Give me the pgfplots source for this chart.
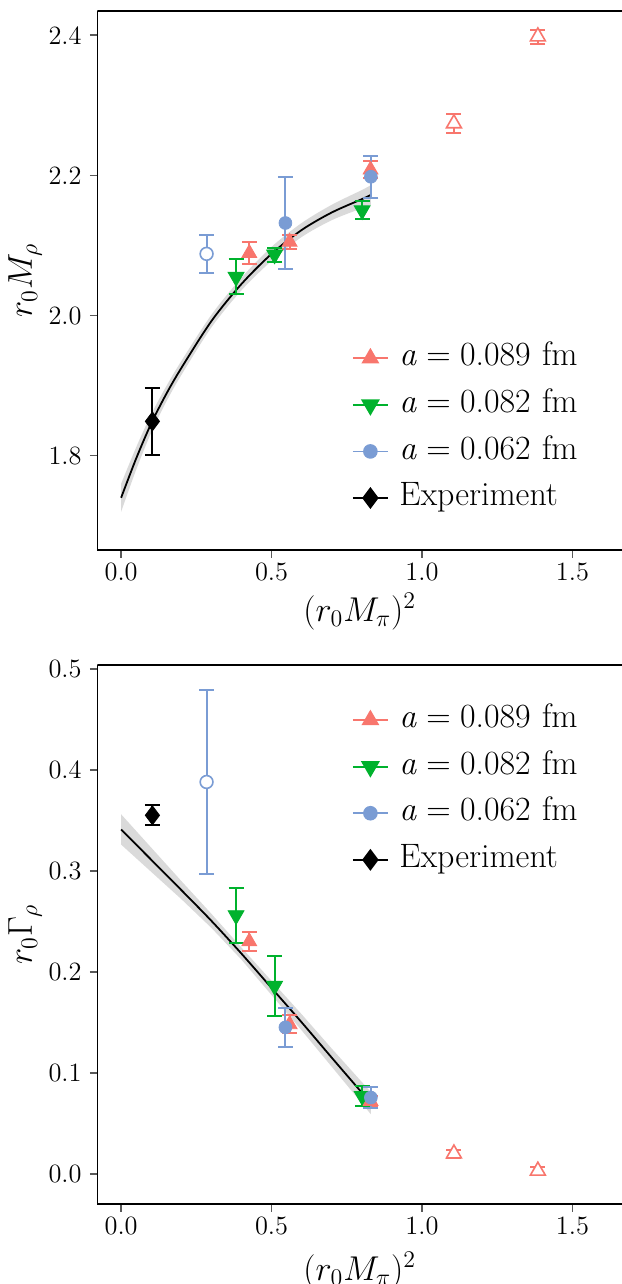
\documentclass[border=0pt]{standalone}
\usepackage{pgfplots}
\usepackage{pgfplotstable}
\pgfplotsset{compat=1.18}
\usepgfplotslibrary{fillbetween}
\definecolor{cR}{RGB}{248,118,109}
\definecolor{cG}{RGB}{0,178,45}
\definecolor{cB}{RGB}{122,156,212}
\definecolor{cBand}{RGB}{218,218,218}

% fit curves: x, central value, half width of band
\pgfplotstableread{
x y h
0 1.740 0.020
0.05 1.796 0.016
0.1 1.846 0.013
0.15 1.888 0.011
0.2 1.925 0.010
0.3 1.992 0.009
0.4 2.045 0.009
0.5 2.088 0.010
0.6 2.122 0.010
0.7 2.147 0.011
0.8 2.166 0.013
0.83 2.172 0.014
}\fitM
\pgfplotstableread{
x y h
0 0.341 0.015
0.1 0.311 0.012
0.2 0.281 0.009
0.3 0.2505 0.007
0.4 0.218 0.006
0.5 0.184 0.007
0.6 0.150 0.008
0.7 0.115 0.009
0.83 0.070 0.011
}\fitG

\newcommand{\aeq}[1]{\textit{a}\hspace{0.278em}=\hspace{0.278em}#1\hspace{0.333em}fm}

\pgfplotsset{
 common/.style={
  scale only axis, width=262.3bp, height=269.6bp,
  xmin=-0.0788, xmax=1.6646,
  axis lines*=left, axis line style={-, line width=0.8bp, black},
  tick align=outside, major tick length=3.75bp,
  tick style={line width=0.7bp, color=black!65},
  xtick={0,0.5,1,1.5},
  xticklabels={0.0,0.5,1.0,1.5},
  tick label style={font=\fontsize{13.25}{15}\selectfont},
  xticklabel style={anchor=north, inner sep=0pt, yshift=-2.75bp},
  yticklabel style={anchor=east, inner sep=0pt, xshift=-3.95bp},
  label style={font=\fontsize{17.28}{20}\selectfont},
  xlabel={$(r_0M_\pi)^2$},
  ylabel style={at={(axis description cs:-0.1247,0.5)}, anchor=base, inner sep=0pt},
  legend cell align=left,
  legend image code/.code={\draw[mark repeat=2,mark phase=2,#1] plot coordinates {(0bp,0bp) (8.75bp,0bp) (17.5bp,0bp)};},
  legend style={draw=none, fill=none, inner sep=0pt, outer sep=0pt,
    font=\fontsize{17}{19}\selectfont,
    nodes={inner sep=1bp, text height=11.7bp, text depth=4bp},
    row sep=5.6bp, column sep=4.35bp},
 },
 errb/.style={error bars/y dir=both, error bars/y explicit,
   error bars/error bar style={line width=1bp, solid},
   error bars/error mark=-,
   error bars/error mark options={rotate=90, mark size=3.75bp, line width=1bp}},
 sR/.style={only marks, forget plot, color=cR, mark=triangle*, mark size=4.3bp, mark options={solid, fill=cR, draw=cR}, errb},
 sRo/.style={only marks, forget plot, color=cR, mark=triangle*, mark size=4.3bp, mark options={solid, fill=white, draw=cR, line width=0.8bp}, errb},
 sG/.style={only marks, forget plot, color=cG, mark=triangle*, mark size=4.6bp, mark options={solid, rotate=180, fill=cG, draw=cG}, errb},
 sB/.style={only marks, forget plot, color=cB, mark=*, mark size=3.2bp, mark options={solid, fill=cB, draw=cB}, errb},
 sBo/.style={only marks, forget plot, color=cB, mark=*, mark size=3.2bp, mark options={solid, fill=white, draw=cB, line width=0.8bp}, errb},
 sK/.style={only marks, forget plot, color=black, mark=diamond*, mark size=4.75bp, mark options={solid, fill=black, draw=black}, errb},
}

\newcommand{\legendimages}{%
  \addlegendimage{cR, line width=0.9bp, mark=triangle*, mark size=4.3bp, mark options={solid, fill=cR}}
  \addlegendentry{\aeq{0.089}}
  \addlegendimage{cG, line width=0.9bp, mark=triangle*, mark size=4.6bp, mark options={solid, rotate=180, fill=cG}}
  \addlegendentry{\aeq{0.082}}
  \addlegendimage{cB, line width=0.9bp, mark=*, mark size=3.2bp, mark options={solid, fill=cB}}
  \addlegendentry{\aeq{0.062}}
  \addlegendimage{black, line width=0.9bp, mark=diamond*, mark size=4.75bp, mark options={solid, fill=black}}
  \addlegendentry{Experiment}
}

\begin{document}
\begin{tikzpicture}
% ---------------- top panel: r0 M_rho ----------------
\begin{axis}[common, at={(48.7bp,-275bp)}, anchor=south west,
  ymin=1.6655, ymax=2.4347,
  ytick={1.8,2.0,2.2,2.4},
  yticklabels={1.8,2.0,2.2,2.4},
  ylabel={$r_0M_\rho$},
  xlabel style={at={(axis description cs:0.5,-0.1317)}, anchor=base, inner sep=0pt},
  legend style={at={(axis description cs:0.4853,0.3885)}, anchor=north west}]
\addplot[name path=upM, draw=none, forget plot, smooth] table[x=x, y expr=\thisrow{y}+\thisrow{h}] {\fitM};
\addplot[name path=loM, draw=none, forget plot, smooth] table[x=x, y expr=\thisrow{y}-\thisrow{h}] {\fitM};
\addplot[cBand, forget plot] fill between[of=upM and loM];
\addplot[black, line width=0.9bp, smooth, forget plot] table[x=x, y=y] {\fitM};
\addplot[sR] table[x=x, y=y, y error=e] {
x y e
0.426 2.089 0.016
0.560 2.105 0.010
0.829 2.208 0.012
};
\addplot[sRo] table[x=x, y=y, y error=e] {
x y e
1.106 2.274 0.014
1.385 2.398 0.010
};
\addplot[sG] table[x=x, y=y, y error=e] {
x y e
0.382 2.055 0.025
0.510 2.087 0.010
0.801 2.150 0.013
};
\addplot[sB] table[x=x, y=y, y error=e] {
x y e
0.546 2.132 0.065
0.830 2.198 0.030
};
\addplot[sBo] table[x=x, y=y, y error=e] {
x y e
0.284 2.088 0.027
};
\addplot[sK] table[x=x, y=y, y error=e] {
x y e
0.104 1.849 0.048
};
\legendimages
\draw[line width=0.8bp, black] (rel axis cs:0,1) -- (rel axis cs:1,1);
\end{axis}
% ---------------- bottom panel: r0 Gamma_rho ----------------
\begin{axis}[common, at={(48.7bp,-602bp)}, anchor=south west,
  ymin=-0.0299, ymax=0.504,
  ytick={0,0.1,0.2,0.3,0.4,0.5},
  yticklabels={0.0,0.1,0.2,0.3,0.4,0.5},
  ylabel={$r_0\Gamma_\rho$},
  xlabel style={at={(axis description cs:0.5,-0.141)}, anchor=base, inner sep=0pt},
  legend style={at={(axis description cs:0.4853,0.9304)}, anchor=north west}]
\addplot[name path=upG, draw=none, forget plot] table[x=x, y expr=\thisrow{y}+\thisrow{h}] {\fitG};
\addplot[name path=loG, draw=none, forget plot] table[x=x, y expr=\thisrow{y}-\thisrow{h}] {\fitG};
\addplot[cBand, forget plot] fill between[of=upG and loG];
\addplot[black, line width=0.9bp, smooth, forget plot] table[x=x, y=y] {\fitG};
\addplot[sR] table[x=x, y=y, y error=e] {
x y e
0.426 0.230 0.0096
0.560 0.148 0.009
0.829 0.072 0.005
};
\addplot[sRo] table[x=x, y=y, y error=e] {
x y e
1.106 0.020 0.004
1.385 0.003 0.004
};
\addplot[sG] table[x=x, y=y, y error=e] {
x y e
0.382 0.256 0.0275
0.510 0.186 0.030
0.801 0.077 0.010
};
\addplot[sB] table[x=x, y=y, y error=e] {
x y e
0.546 0.145 0.019
0.830 0.0755 0.010
};
\addplot[sBo] table[x=x, y=y, y error=e] {
x y e
0.284 0.388 0.091
};
\addplot[sK] table[x=x, y=y, y error=e] {
x y e
0.104 0.355 0.010
};
\legendimages
\draw[line width=0.8bp, black] (rel axis cs:0,1) -- (rel axis cs:1,1);
\end{axis}
\pgfresetboundingbox
\useasboundingbox (0,0) rectangle (311bp,-642bp);
\end{tikzpicture}
\end{document}
